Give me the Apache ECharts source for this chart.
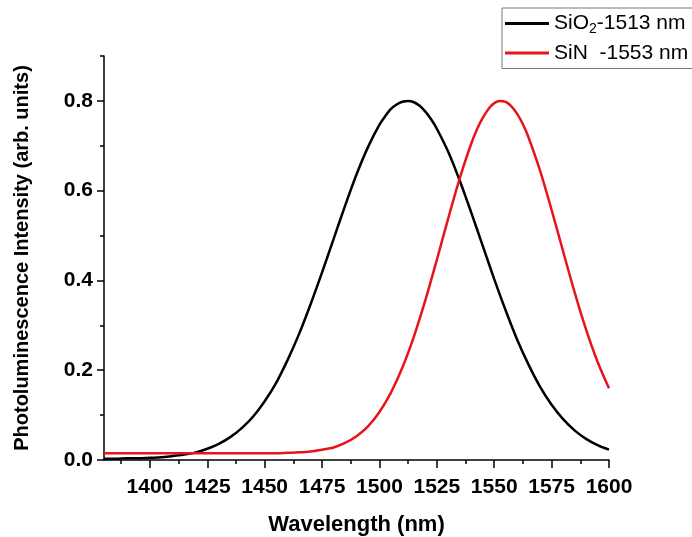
<!DOCTYPE html>
<html lang="en">
<head>
    <meta charset="UTF-8">
    <title>PL spectra</title>
    <script src="https://cdn.jsdelivr.net/npm/echarts@6/dist/echarts.min.js"></script>
</head>
<body style="margin:0;background:#fff;">
<div id='main' style='width:692px;height:537px;'></div>
<script>
    // SiO2 - 1513 nm : wavelength (nm) and intensity
    var wlSiO2 = [1380, 1385, 1390, 1395, 1400, 1405, 1410, 1415, 1420, 1425,
        1430, 1435, 1440, 1445, 1450, 1455, 1460, 1465, 1470, 1475,
        1480, 1485, 1490, 1495, 1500, 1502.5, 1505, 1507.5, 1510, 1512.5, 1515,
        1517.5, 1520, 1522.5, 1525, 1530, 1535, 1540, 1545, 1550, 1555,
        1560, 1565, 1570, 1575, 1580, 1585, 1590, 1595, 1600];
    var sio2 = [0.003, 0.003, 0.004, 0.004, 0.005, 0.006, 0.009, 0.012, 0.017, 0.025,
        0.036, 0.051, 0.071, 0.097, 0.131, 0.172, 0.223, 0.281, 0.347, 0.418,
        0.492, 0.566, 0.636, 0.697, 0.747, 0.766, 0.782, 0.792, 0.798, 0.800, 0.797,
        0.789, 0.776, 0.759, 0.738, 0.686, 0.622, 0.551, 0.477, 0.403, 0.333,
        0.268, 0.212, 0.163, 0.123, 0.091, 0.066, 0.047, 0.033, 0.023];
    // SiN - 1553 nm : wavelength (nm) and intensity
    var wlSiN = [1380, 1385, 1390, 1395, 1400, 1405, 1410, 1415, 1420, 1425,
        1430, 1435, 1440, 1445, 1450, 1455, 1460, 1465, 1470, 1475,
        1480, 1485, 1490, 1495, 1500, 1505, 1510, 1515, 1520, 1525,
        1530, 1535, 1540, 1542.5, 1545, 1547.5, 1550, 1552.5, 1555, 1557.5,
        1560, 1562.5, 1565, 1570, 1575, 1580, 1585, 1590, 1595, 1600];
    var sin = [0.015, 0.015, 0.015, 0.015, 0.015, 0.015, 0.015, 0.015, 0.015, 0.015,
        0.015, 0.015, 0.015, 0.015, 0.015, 0.015, 0.016, 0.017, 0.019, 0.023,
        0.028, 0.038, 0.053, 0.075, 0.107, 0.150, 0.206, 0.275, 0.356, 0.446,
        0.539, 0.628, 0.705, 0.737, 0.762, 0.782, 0.795, 0.800, 0.798, 0.788,
        0.771, 0.748, 0.718, 0.644, 0.557, 0.465, 0.374, 0.291, 0.219, 0.160];
    // ticks
    var xMajor = [1400, 1425, 1450, 1475, 1500, 1525, 1550, 1575, 1600];
    var xMinor = [1387.5, 1412.5, 1437.5, 1462.5, 1487.5, 1512.5, 1537.5, 1562.5, 1587.5];
    var yMajor = [0, 0.2, 0.4, 0.6, 0.8];
    var yMinor = [0.1, 0.3, 0.5, 0.7, 0.9];

    function pairs(xs, ys) {
        var out = [];
        for (var i = 0; i < xs.length; i++) {
            out.push([xs[i], ys[i]]);
        }
        return out;
    }

    var font = 'Liberation Sans, Arial, sans-serif';
    var axisLineStyle = {color: '#000', width: 1.5};
    var black = '#000';
    var red = '#e8141b';

    var myChart = echarts.init(document.getElementById('main'));
    var option = {
        animation: false,
        backgroundColor: '#fff',
        grid: {left: 104, right: 83, top: 56, bottom: 77, outerBoundsMode: 'none', containLabel: false},
        legend: {
            orient: 'vertical',
            left: 502,
            top: 8,
            padding: [5, 30, 5, 3],
            borderColor: '#777',
            borderWidth: 1,
            itemWidth: 44,
            itemHeight: 3,
            itemGap: 6,
            icon: 'rect',
            data: ['SiO2', 'SiN'],
            formatter: function (name) {
                if (name === 'SiO2') {
                    return '{a|SiO}{s|2}{a|-1513 nm}';
                }
                return '{a|SiN  -1553 nm}';
            },
            textStyle: {
                rich: {
                    a: {fontFamily: font, fontSize: 21, color: '#000', height: 25},
                    s: {fontFamily: font, fontSize: 14, color: '#000', padding: [12, 0, 0, 0], height: 25}
                }
            }
        },
        xAxis: [{
            type: 'value',
            min: 1380,
            max: 1600,
            name: 'Wavelength (nm)',
            nameLocation: 'middle',
            nameGap: 54,
            nameTextStyle: {fontFamily: font, fontSize: 22, fontWeight: 'bold', color: '#000'},
            splitLine: {show: false},
            axisLine: {lineStyle: axisLineStyle},
            axisTick: {length: 8, lineStyle: axisLineStyle, customValues: xMajor},
            axisLabel: {
                customValues: xMajor, margin: 17,
                fontFamily: font, fontSize: 21, fontWeight: 'bold', color: '#000',
                formatter: function (v) { return String(v); }
            }
        }, {
            type: 'value',
            min: 1380,
            max: 1600,
            position: 'bottom',
            splitLine: {show: false},
            axisLine: {show: false},
            axisTick: {show: true, length: 4, lineStyle: axisLineStyle, customValues: xMinor},
            axisLabel: {show: false, customValues: xMinor}
        }],
        yAxis: [{
            type: 'value',
            min: 0,
            max: 0.9,
            name: 'Photoluminescence Intensity (arb. units)',
            nameLocation: 'middle',
            nameGap: 72,
            nameTextStyle: {fontFamily: font, fontSize: 20, fontWeight: 'bold', color: '#000'},
            splitLine: {show: false},
            axisLine: {show: true, lineStyle: axisLineStyle},
            axisTick: {show: true, length: 7, lineStyle: axisLineStyle, customValues: yMajor},
            axisLabel: {
                customValues: yMajor, margin: 11,
                fontFamily: font, fontSize: 21, fontWeight: 'bold', color: '#000',
                formatter: function (v) { return v.toFixed(1); }
            }
        }, {
            type: 'value',
            min: 0,
            max: 0.9,
            position: 'left',
            splitLine: {show: false},
            axisLine: {show: false},
            axisTick: {show: true, length: 4, lineStyle: axisLineStyle, customValues: yMinor},
            axisLabel: {show: false, customValues: yMinor}
        }],
        series: [{
            name: 'SiO2',
            type: 'line',
            smooth: 0.3,
            symbol: 'none',
            data: pairs(wlSiO2, sio2),
            lineStyle: {color: black, width: 2.5},
            itemStyle: {color: black}
        }, {
            name: 'SiN',
            type: 'line',
            smooth: 0.3,
            symbol: 'none',
            data: pairs(wlSiN, sin),
            lineStyle: {color: red, width: 2.5},
            itemStyle: {color: red}
        }]
    };
    myChart.setOption(option);
</script>
</body>
</html>
